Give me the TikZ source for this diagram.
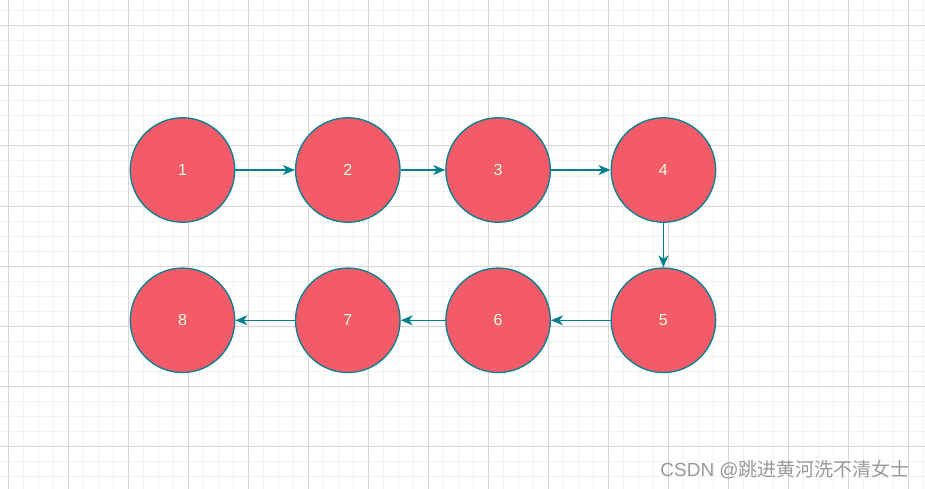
\documentclass[tikz,border=0pt]{standalone}
\usepackage{fontspec}
\setmainfont{Liberation Sans}
\newfontfamily\cjkfont{Noto Sans CJK SC}
\usepackage{xcolor}
\usetikzlibrary{arrows.meta,positioning}
\definecolor{listfill}{HTML}{F45B69}
\definecolor{listedge}{HTML}{028090}
\definecolor{listtext}{HTML}{E4FDE1}
\definecolor{gridminor}{HTML}{F2F2F2}
\definecolor{gridmajor}{HTML}{D6D6D6}
\definecolor{marktext}{HTML}{999999}
\tikzset{
  >={Stealth[length=12pt,width=10pt,inset=3.5pt]},
  listnode/.style={circle,draw=listedge,line width=1.3pt,fill=listfill,
                   text=listtext,font=\fontsize{16}{18}\selectfont,
                   minimum size=104.5pt,inner sep=0pt},
  linkarrow/.style={->,line width=1.3pt,draw=listedge,fill=listedge},
}

\begin{document}
\begin{tikzpicture}[x=1pt,y=-1pt,node distance=60pt and 60pt]
  \useasboundingbox (0,0) rectangle (925,489);
  \fill[white] (0,0) rectangle (925,489);
  % background grid
  \foreach \x in {8,23,...,923}{ \draw[gridminor,line width=1pt] (\x,0) -- (\x,489); }
  \foreach \y in {11,26,...,488}{ \draw[gridminor,line width=1pt] (0,\y) -- (925,\y); }
  \foreach \x in {8,68,...,908}{ \draw[gridmajor,line width=1pt] (\x,0) -- (\x,489); }
  \foreach \y in {26,86,...,446}{ \draw[gridmajor,line width=1pt] (0,\y) -- (925,\y); }

  \node[listnode] (n1) at (182.5,170) {1};
  \node[listnode,right=59.5pt of n1] (n2) {2};
  \node[listnode,right=44.5pt of n2] (n3) {3};
  \node[listnode,right=59.5pt of n3] (n4) {4};
  \node[listnode,below=44.5pt of n4] (n5) {5};
  \node[listnode,left=59.5pt of n5] (n6) {6};
  \node[listnode,left=44.5pt of n6] (n7) {7};
  \node[listnode,left=59.5pt of n7] (n8) {8};
  \foreach \a/\b in {n1/n2,n2/n3,n3/n4,n4/n5,n5/n6,n6/n7,n7/n8}{ \draw[linkarrow] (\a) -- (\b); }

  \node[anchor=base east,text=marktext,font=\fontsize{19}{21}\selectfont,inner sep=0pt] (mark) at (910,476) {CSDN @{\cjkfont 跳进黄河洗不清女士}};
\end{tikzpicture}
\end{document}
